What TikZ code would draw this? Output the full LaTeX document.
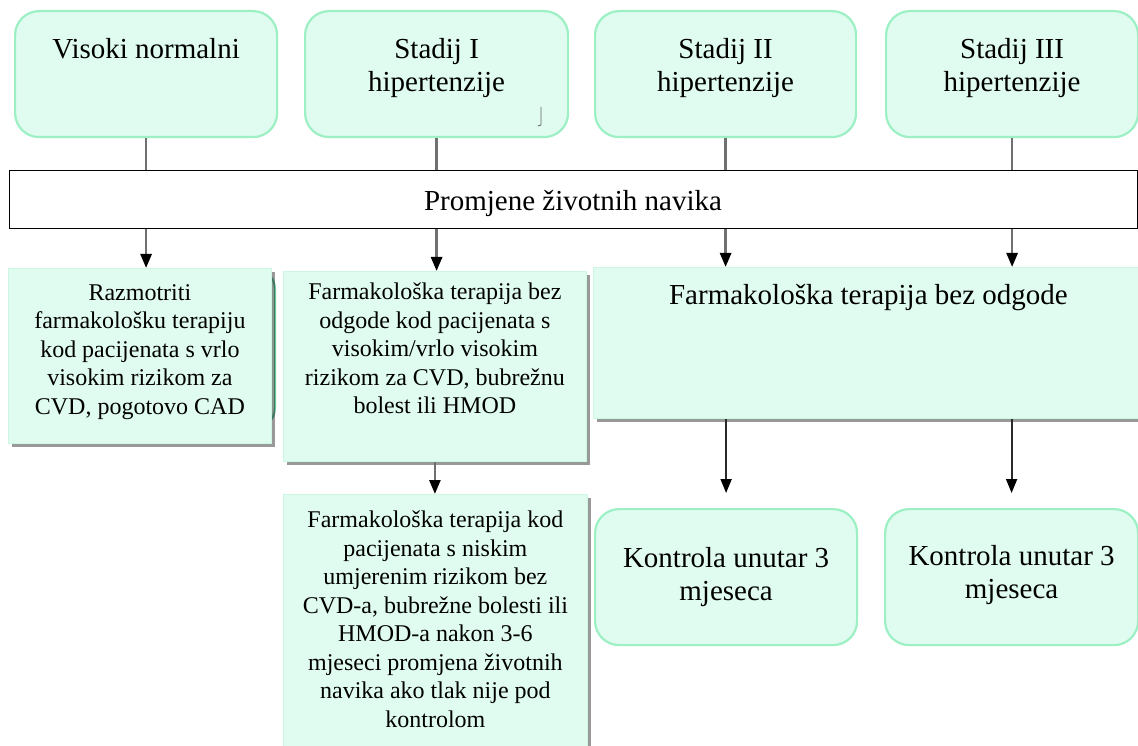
\documentclass[tikz,border=0pt]{standalone}
\usepackage{fontspec}
\setmainfont{Liberation Serif}
\usetikzlibrary{arrows.meta,shadows,calc}
\definecolor{mint}{HTML}{E0FCF0}
\definecolor{mintb}{HTML}{9CF0C4}
\definecolor{mintd}{HTML}{6CC89E}
\definecolor{conn}{HTML}{707070}
\definecolor{dconn}{HTML}{2A2A2A}
\begin{document}
\begin{tikzpicture}[x=1pt,y=-1pt,
  rbox/.style={draw=mintb, line width=2.2pt, fill=mint, rounded corners=24pt, inner sep=0pt, anchor=north west},
  sbox/.style={fill=mint, draw=mint!70!mintb, line width=0.8pt, inner sep=0pt, anchor=north west,
    drop shadow={shadow xshift=4pt, shadow yshift=-4pt, fill=black, opacity=0.4}},
  big/.style={font=\rmfamily\fontsize{29}{33}\selectfont, align=center, inner sep=0pt, anchor=north},
  small/.style={font=\rmfamily\fontsize{24}{28.5}\selectfont, align=center, inner sep=0pt, anchor=north},
  link/.style={draw=conn, line width=2.6pt},
  arr/.style={draw=conn, line width=2.6pt, -{Triangle[width=11pt,length=14pt,black]}},
  arrd/.style={draw=dconn, line width=1.8pt, -{Triangle[width=11pt,length=14pt,black]}},
]
\useasboundingbox (0,0) rectangle (1138,746);
\fill[white] (0,0) rectangle (1138,746);

% top row
\node[rbox, minimum width=262pt, minimum height=126pt] (b1) at (14,10) {};
\node[rbox, minimum width=263pt, minimum height=126pt] (b2) at (304,10) {};
\node[rbox, minimum width=261pt, minimum height=126pt] (b3) at (594,10) {};
\node[rbox, minimum width=252pt, minimum height=126pt] (b4) at (885,10) {};
\node[big] (t1) at ($(b1.north)+(0,28)$) {Visoki normalni};
\node[big] (t2) at ($(b2.north)+(0,28)$) {Stadij I\\hipertenzije};
\node[big] (t3) at ($(b3.north)+(0,28)$) {Stadij II\\hipertenzije};
\node[big] (t4) at ($(b4.north)+(0,28)$) {Stadij III\\hipertenzije};
\draw[black!60, line width=0.8pt] (541,107) -- (541,125) -- (538,126);

% bar
\node[draw=black, line width=1.3pt, fill=white, minimum width=1128pt, minimum height=58pt,
  anchor=north west, inner sep=0pt] (bar) at (9,170) {};
\node[font=\rmfamily\fontsize{29}{33}\selectfont, inner sep=0pt, anchor=base] (bart) at (573,211) {Promjene životnih navika};

\draw[link] (b1.south) -- (b1.south |- bar.north);
\draw[link] (b2.south) -- (b2.south |- bar.north);
\draw[link] (b3.south) -- (b3.south |- bar.north);
\draw[link] (b4.south) -- (b4.south |- bar.north);

% lower boxes
\node[draw=mintd, line width=2pt, fill=mint, rounded corners=20pt, minimum width=245pt,
  minimum height=159pt, anchor=north east, inner sep=0pt] (hid) at (276,268) {};
\node[sbox, minimum width=263pt, minimum height=175pt] (A) at (8,268) {};
\node[sbox, minimum width=303pt, minimum height=190pt] (B) at (283,271) {};
\node[sbox, minimum width=550pt, minimum height=151pt] (D) at (593,267) {};
\node[sbox, minimum width=304pt, minimum height=270pt] (C) at (283,494) {};
\node[rbox, minimum width=262pt, minimum height=136pt] (K1) at (594,508) {};
\node[rbox, minimum width=253pt, minimum height=136pt] (K2) at (884,508) {};

\node[small] (At) at ($(A.north)+(0,16)$) {Razmotriti\\farmakološku terapiju\\kod pacijenata s vrlo\\visokim rizikom za\\CVD, pogotovo CAD};
\node[small] (Bt) at ($(B.north)+(0,12)$) {Farmakološka terapija bez\\odgode kod pacijenata s\\visokim/vrlo visokim\\rizikom za CVD, bubrežnu\\bolest ili HMOD};
\node[small] (Ct) at ($(C.north)+(0,17)$) {Farmakološka terapija kod\\pacijenata s niskim\\umjerenim rizikom bez\\CVD-a, bubrežne bolesti ili\\HMOD-a nakon 3-6\\mjeseci promjena životnih\\navika ako tlak nije pod\\kontrolom};
\node[big] (Dt) at ($(D.north)+(0,17)$) {Farmakološka terapija bez odgode};
\node[big] (K1t) at ($(K1.north)+(0,39)$) {Kontrola unutar 3\\mjeseca};
\node[big] (K2t) at ($(K2.north)+(0,37)$) {Kontrola unutar 3\\mjeseca};

% arrows
\draw[arr] (bar.south -| b1.south) -- (A.north -| b1.south);
\draw[arr] (bar.south -| b2.south) -- (B.north -| b2.south);
\draw[arr] (bar.south -| b3.south) -- (D.north -| b3.south);
\draw[arr] (bar.south -| b4.south) -- (D.north -| b4.south);
\draw[arr] (B.south) -- (C.north -| B.south);
\draw[arrd, shorten >=15pt] (D.south -| K1.north) -- (K1.north);
\draw[arrd, shorten >=15pt] (D.south -| K2.north) -- (K2.north);
\end{tikzpicture}
\end{document}
